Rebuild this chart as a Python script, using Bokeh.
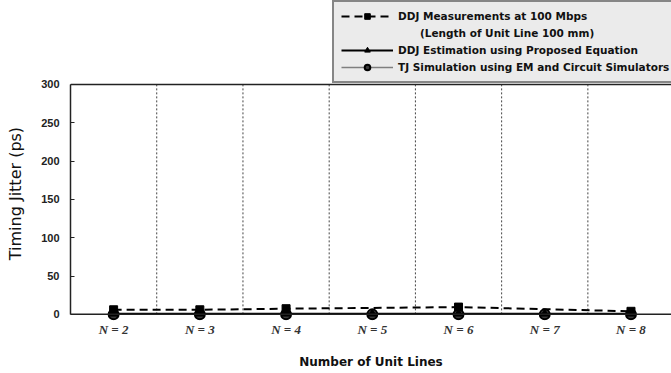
from bokeh.plotting import figure
from bokeh.models import Range1d, FixedTicker, Span, Legend, LegendItem, ColumnDataSource
from bokeh.embed import file_html
from bokeh.resources import INLINE

# ---- data ----
categories = ["N = 2", "N = 3", "N = 4", "N = 5", "N = 6", "N = 7", "N = 8"]
n_values = [2, 3, 4, 5, 6, 7, 8]

meas_n = [2, 3, 4, 6, 8]
meas_ddj = [6.0, 6.0, 7.4, 9.5, 4.0]

est_n = [2, 3, 4, 5, 6, 7, 8]
est_ddj = [0.8, 0.8, 0.8, 0.8, 0.8, 0.8, 0.8]

sim_n = [2, 3, 4, 5, 6, 7, 8]
sim_tj = [0.0, 0.0, 0.0, 0.0, 0.0, 0.0, 0.0]

y_ticks = [0, 50, 100, 150, 200, 250, 300]

label_meas_1 = "DDJ Measurements at 100 Mbps"
label_meas_2 = "(Length of Unit Line 100 mm)"
label_est = "DDJ Estimation using Proposed Equation"
label_sim = "TJ Simulation using EM and Circuit Simulators"

# ---- helpers ----
def idx(ns):
    return [n_values.index(n) for n in ns]

p = figure(width=671, height=373, output_backend="svg", toolbar_location=None,
           x_range=Range1d(-0.5, 6.47), y_range=Range1d(-8, 409.6),
           min_border_left=70, min_border_right=0, min_border_top=0, min_border_bottom=53)
p.background_fill_color = "white"
p.border_fill_color = "white"
p.outline_line_color = None
p.xgrid.visible = False
p.ygrid.visible = False

# category separators (dotted), from bottom to top of the value axis
sep_x = [i + 0.5 for i in range(len(categories) - 1)]
p.segment(x0=sep_x, x1=sep_x, y0=[y_ticks[0]] * len(sep_x), y1=[y_ticks[-1]] * len(sep_x),
          line_color="#444444", line_width=1, line_dash="2 2")
# top frame line and baseline axis line at zero
p.add_layout(Span(location=y_ticks[-1], dimension="width", line_color="#222222", line_width=1.5))
p.add_layout(Span(location=y_ticks[0], dimension="width", line_color="#222222", line_width=1.5))

# series
sim_src = ColumnDataSource(dict(x=idx(sim_n), y=sim_tj))
est_src = ColumnDataSource(dict(x=idx(est_n), y=est_ddj))
meas_src = ColumnDataSource(dict(x=idx(meas_n), y=meas_ddj))

r_sim_l = p.line("x", "y", source=sim_src, line_color="#7f7f7f", line_width=1.5)
r_sim_m = p.scatter("x", "y", source=sim_src, marker="circle", size=10,
                    fill_color="#3a3a3a", line_color="black", line_width=2)
r_est_l = p.line("x", "y", source=est_src, line_color="black", line_width=2)
r_est_m = p.scatter("x", "y", source=est_src, marker="triangle", size=8,
                    fill_color="black", line_color="black")
r_meas_l = p.line("x", "y", source=meas_src, line_color="black", line_width=2, line_dash="8 5")
r_meas_m = p.scatter("x", "y", source=meas_src, marker="square", size=8,
                     fill_color="black", line_color="black")
r_blank = p.line("x", "y", source=ColumnDataSource(dict(x=[], y=[])), line_alpha=0)

# axes
xa = p.xaxis[0]
xa.ticker = FixedTicker(ticks=list(range(len(categories))))
xa.major_label_overrides = {i: c for i, c in enumerate(categories)}
xa.major_tick_line_color = None
xa.major_tick_in = 0
xa.major_tick_out = 0
xa.minor_tick_line_color = None
xa.axis_line_color = None
xa.major_label_text_font = "Liberation Serif"
xa.major_label_text_font_style = "bold italic"
xa.major_label_text_font_size = "13px"
xa.major_label_text_color = "#333333"
xa.major_label_standoff = 1
xa.axis_label = "Number of Unit Lines"
xa.axis_label_text_font = "DejaVu Sans"
xa.axis_label_text_font_style = "bold"
xa.axis_label_text_font_size = "12px"
xa.axis_label_text_color = "#111111"
xa.axis_label_standoff = 15

ya = p.yaxis[0]
ya.bounds = (0, 300)
ya.ticker = FixedTicker(ticks=y_ticks)
ya.minor_tick_line_color = None
ya.major_tick_in = 4
ya.major_tick_out = 0
ya.axis_line_color = "#222222"
ya.axis_line_width = 1.5
ya.major_tick_line_color = "#222222"
ya.major_label_text_font = "Liberation Sans"
ya.major_label_text_font_style = "bold"
ya.major_label_text_font_size = "11px"
ya.major_label_text_color = "#222222"
ya.major_label_standoff = 11
ya.axis_label = "Timing Jitter (ps)" + "\u00a0" * 13
ya.axis_label_text_font = "DejaVu Sans"
ya.axis_label_text_font_style = "normal"
ya.axis_label_text_font_size = "16px"
ya.axis_label_text_color = "#111111"
ya.axis_label_standoff = 13

legend = Legend(items=[
    LegendItem(label=label_meas_1, renderers=[r_meas_l, r_meas_m]),
    LegendItem(label="\u00a0" * 6 + label_meas_2, renderers=[r_blank]),
    LegendItem(label=label_est, renderers=[r_est_l, r_est_m]),
    LegendItem(label=label_sim, renderers=[r_sim_l, r_sim_m]),
], location=(262, 237), orientation="vertical")
legend.background_fill_color = "#ebebeb"
legend.background_fill_alpha = 1
legend.border_line_color = "#222222"
legend.border_line_width = 2
legend.label_text_font = "DejaVu Sans"
legend.label_text_font_style = "bold"
legend.label_text_font_size = "10.5px"
legend.label_text_color = "#111111"
legend.glyph_width = 52
legend.glyph_height = 14
legend.label_height = 14
legend.label_standoff = 5
legend.spacing = 3
legend.padding = 7
legend.margin = 0
p.add_layout(legend, "center")

open("out.html", "w").write(file_html(p, INLINE))
